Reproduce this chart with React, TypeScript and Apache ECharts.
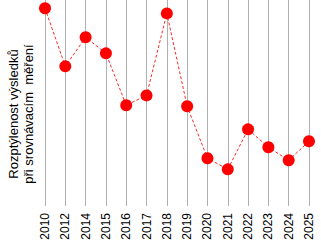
import React, { useEffect, useRef } from "react";
import * as echarts from "echarts";

const years = ["2010", "2012", "2014", "2015", "2016", "2017", "2018", "2019", "2020", "2021", "2022", "2023", "2024", "2025"];
const values = [96.0, 67.8, 81.9, 74.1, 48.9, 53.7, 93.5, 48.4, 23.2, 17.8, 37.2, 28.5, 22.2, 31.4];
const yTitle = "Rozptýlenost výsledků\npři srovnávacím  měření";

export default function App() {
  const ref = useRef<HTMLDivElement>(null);
  useEffect(() => {
    if (!ref.current) return;
    const chart = echarts.init(ref.current, undefined, { renderer: "svg" });
    chart.setOption({
      animation: false,
      grid: { left: 45, right: 12, top: 0, bottom: 40 },
      xAxis: {
        type: "category",
        data: years,
        boundaryGap: false,
        axisLine: { show: false },
        axisTick: { show: false },
        axisLabel: {
          rotate: 90,
          margin: 7,
          color: "#000",
          fontFamily: "Liberation Sans, Arial, sans-serif",
          fontSize: 12,
        },
        splitLine: { show: true, lineStyle: { color: "#b0b0b0", width: 1 } },
      },
      yAxis: {
        type: "value",
        min: 0,
        max: 100,
        show: false,
      },
      graphic: [
        {
          type: "text",
          x: 21,
          y: 114,
          rotation: Math.PI / 2,
          style: {
            text: yTitle,
            align: "center",
            verticalAlign: "middle",
            fill: "#000",
            font: "13px 'Liberation Sans', Arial, sans-serif",
            lineHeight: 15,
          },
        },
      ],
      series: [
        {
          type: "line",
          data: values,
          symbol: "circle",
          symbolSize: 12,
          itemStyle: { color: "#ff0000" },
          lineStyle: { color: "#ff2a2a", width: 1, type: [3, 2] },
        },
      ],
    });
    return () => chart.dispose();
  }, []);
  return <div ref={ref} style={{ width: 321, height: 246, position: "absolute", left: 0, top: 0 }} />;
}
